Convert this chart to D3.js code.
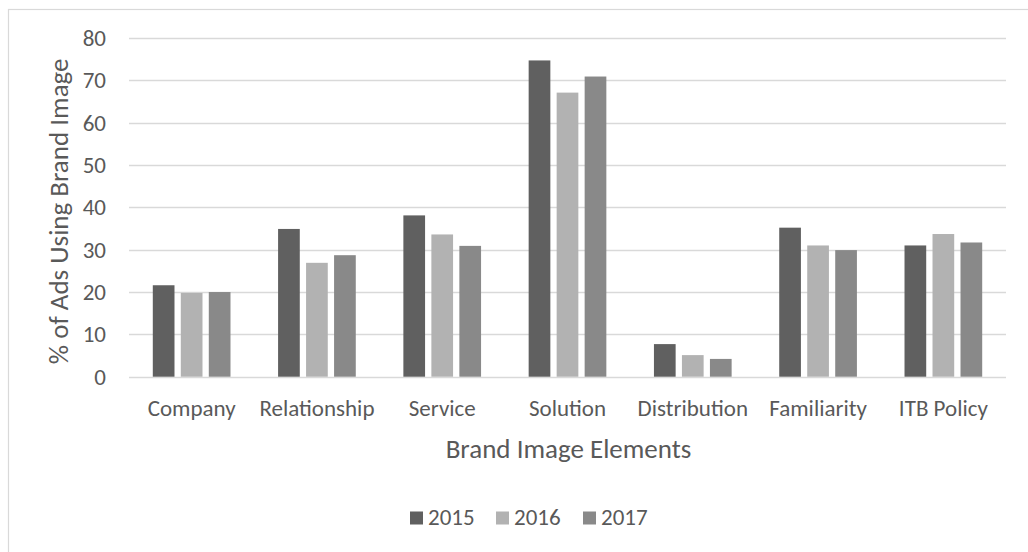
<!DOCTYPE html>
<html>
<head>
<meta charset="utf-8">
<script src="https://cdn.jsdelivr.net/npm/d3@7"></script>
<style>
  html, body { margin: 0; padding: 0; background: #fff; }
  svg { display: block; }
  text { font-family: Carlito, Calibri, Lato, sans-serif; fill: #595959; }
</style>
</head>
<body>
<svg id="chart" width="1028" height="552"></svg>
<script>
// Brand image elements and yearly share of ads (%)
const categories = ["Company", "Relationship", "Service", "Solution", "Distribution", "Familiarity", "ITB Policy"];
const years = ["2015", "2016", "2017"];
const values2015 = [21.6, 34.9, 38.1, 74.7, 7.7, 35.2, 31.0];
const values2016 = [19.8, 26.9, 33.6, 67.1, 5.1, 31.0, 33.7];
const values2017 = [20.0, 28.7, 30.9, 70.9, 4.2, 29.9, 31.7];
const yTicks = [0, 10, 20, 30, 40, 50, 60, 70, 80];
const colors = ["#606060", "#b2b2b2", "#898989"];

const series = [values2015, values2016, values2017];
const rows = categories.map((c, i) => ({ category: c, values: years.map((y, j) => ({ year: y, value: series[j][i] })) }));

const svg = d3.select("#chart");
const labelSize = 23;
const titleSize = 27;

// chart frame
svg.append("rect")
  .attr("x", 8.5).attr("y", 9.5)
  .attr("width", 1040).attr("height", 560)
  .attr("fill", "none").attr("stroke", "#d9d9d9").attr("stroke-width", 1.2);

const plot = { left: 129, right: 1006, top: 38, bottom: 376.7 };

const x0 = d3.scaleBand().domain(categories).range([plot.left, plot.right]).paddingInner(0).paddingOuter(0);
const x1 = d3.scaleBand().domain(years).range([0, x0.bandwidth()]).paddingInner(0.225).paddingOuter(0.85);
const y = d3.scaleLinear().domain([0, 80]).range([plot.bottom, plot.top]);
const color = d3.scaleOrdinal().domain(years).range(colors);

// gridlines
svg.append("g")
  .selectAll("line").data(yTicks).join("line")
  .attr("x1", plot.left).attr("x2", plot.right)
  .attr("y1", d => Math.round(y(d)) + 0.5).attr("y2", d => Math.round(y(d)) + 0.5)
  .attr("stroke", "#d9d9d9").attr("stroke-width", 1.3);

// y axis labels
const yAxis = svg.append("g")
  .attr("transform", `translate(${plot.left},0)`)
  .call(d3.axisLeft(y).tickValues(yTicks).tickSize(0).tickPadding(23));
yAxis.select(".domain").remove();
yAxis.selectAll("text").style("font-size", labelSize + "px").attr("fill", "#595959").style("font-family", null);

// bars
svg.append("g")
  .selectAll("g").data(rows).join("g")
  .attr("transform", d => `translate(${x0(d.category)},0)`)
  .selectAll("rect").data(d => d.values).join("rect")
  .attr("x", d => x1(d.year))
  .attr("width", x1.bandwidth())
  .attr("y", d => y(d.value))
  .attr("height", d => y(0) - y(d.value))
  .attr("fill", d => color(d.year));

// x axis labels
const xAxis = svg.append("g")
  .attr("transform", `translate(0,${plot.bottom})`)
  .call(d3.axisBottom(x0).tickSize(0).tickPadding(23));
xAxis.select(".domain").remove();
xAxis.selectAll("text").style("font-size", labelSize + "px").attr("fill", "#595959").style("font-family", null);

// axis titles
svg.append("text")
  .attr("x", (plot.left + plot.right) / 2 + 1).attr("y", 458)
  .attr("text-anchor", "middle")
  .style("font-size", titleSize + "px")
  .text("Brand Image Elements");

svg.append("text")
  .attr("transform", `translate(68,${(plot.top + plot.bottom) / 2 + 4}) rotate(-90)`)
  .attr("text-anchor", "middle")
  .style("font-size", titleSize + "px")
  .text("% of Ads Using Brand Image");

// legend
const legendItems = [
  { year: "2015", x: 410 },
  { year: "2016", x: 496 },
  { year: "2017", x: 583 }
];
const legend = svg.append("g").selectAll("g").data(legendItems).join("g")
  .attr("transform", d => `translate(${d.x},511.5)`);
legend.append("rect").attr("width", 13).attr("height", 13).attr("fill", d => color(d.year));
legend.append("text").attr("x", 18).attr("y", 13.5)
  .style("font-size", labelSize + "px")
  .text(d => d.year);
</script>
</body>
</html>
